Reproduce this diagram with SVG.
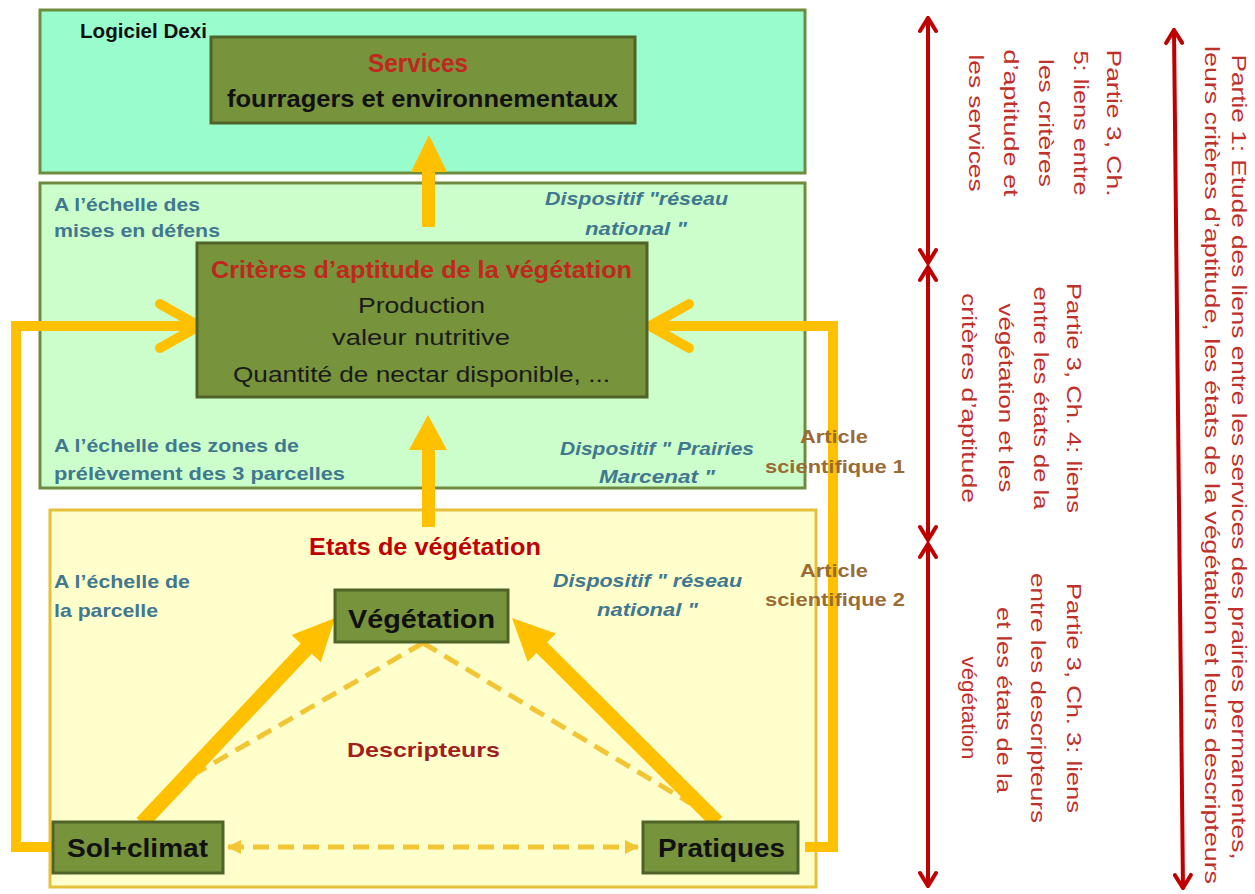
<svg xmlns="http://www.w3.org/2000/svg" width="1255" height="894" viewBox="0 0 1255 894">
<style>
text{font-family:"Liberation Sans",Arial,sans-serif;}
.cont{stroke:#6e8c3e;stroke-width:3;}
.node{fill:#77933c;stroke:#4f6228;stroke-width:3;}
.blue{fill:#41788e;font-weight:bold;font-size:19px;}
.bi{fill:#41788e;font-weight:bold;font-style:italic;font-size:19px;}
.brown{fill:#9b6b35;font-weight:bold;font-size:19px;}
.nlab{fill:#111;font-weight:bold;font-size:25px;}
.crit{fill:#1a1a1a;font-size:22px;}
.rot{fill:#c0302a;font-size:21px;}
.yl{fill:none;stroke:#ffc000;stroke-width:10;}
.chev{fill:none;stroke:#ffc000;stroke-width:10;stroke-linecap:round;stroke-linejoin:miter;}
.dash{fill:none;stroke:#f2c535;stroke-width:5;stroke-dasharray:16 9;}
.red{stroke:#c00000;stroke-width:4;fill:none;}
</style>
<defs>
<marker id="redHead" viewBox="0 0 20 20" refX="18" refY="10" markerWidth="20" markerHeight="20" markerUnits="userSpaceOnUse" orient="auto-start-reverse">
<path d="M5,2 L18,10 L5,18" fill="none" stroke="#c00000" stroke-width="4" stroke-linecap="round"/>
</marker>
<marker id="dashHead" viewBox="0 0 14 16" refX="13" refY="8" markerWidth="14" markerHeight="16" markerUnits="userSpaceOnUse" orient="auto-start-reverse">
<path d="M0,1 L14,8 L0,15 z" fill="#f2c535"/>
</marker>
</defs>
<rect width="1255" height="894" fill="#ffffff"/>

<g id="zone-dexi">
<rect class="cont" x="40" y="10" width="765" height="163" fill="#99fccd"/>
<text x="80" y="38" font-size="20" font-weight="bold" fill="#111" textLength="127" lengthAdjust="spacingAndGlyphs">Logiciel Dexi</text>
</g>
<g id="zone-mises">
<rect class="cont" x="40" y="183" width="765" height="305" fill="#ccfecc"/>
<text class="blue" x="54" y="211" textLength="146" lengthAdjust="spacingAndGlyphs">A l’échelle des</text>
<text class="blue" x="54" y="237" textLength="166" lengthAdjust="spacingAndGlyphs">mises en défens</text>
<text class="bi" x="545" y="205" textLength="183" lengthAdjust="spacingAndGlyphs">Dispositif "réseau</text>
<text class="bi" x="585" y="235" textLength="102" lengthAdjust="spacingAndGlyphs">national "</text>
<text class="blue" x="54" y="452" textLength="245" lengthAdjust="spacingAndGlyphs">A l’échelle des zones de</text>
<text class="blue" x="54" y="480" textLength="291" lengthAdjust="spacingAndGlyphs">prélèvement des 3 parcelles</text>
<text class="bi" x="560" y="455" textLength="194" lengthAdjust="spacingAndGlyphs">Dispositif " Prairies</text>
<text class="bi" x="599" y="483" textLength="116" lengthAdjust="spacingAndGlyphs">Marcenat "</text>
</g>
<g id="zone-parcelle">
<rect x="50" y="510" width="766" height="377" fill="#ffffcc" stroke="#e6c03a" stroke-width="3"/>
<text x="309" y="555" font-size="23" font-weight="bold" fill="#c00000" textLength="232" lengthAdjust="spacingAndGlyphs">Etats de végétation</text>
<text class="blue" x="54" y="588" textLength="136" lengthAdjust="spacingAndGlyphs">A l’échelle de</text>
<text class="blue" x="54" y="617" textLength="104" lengthAdjust="spacingAndGlyphs">la parcelle</text>
<text class="bi" x="553" y="587" textLength="189" lengthAdjust="spacingAndGlyphs">Dispositif " réseau</text>
<text class="bi" x="597" y="616" textLength="101" lengthAdjust="spacingAndGlyphs">national "</text>
<text x="347" y="757" font-size="21" font-weight="bold" fill="#a0201e" textLength="153" lengthAdjust="spacingAndGlyphs">Descripteurs</text>
</g>

<g id="connectors">
<polygon fill="#ffc000" points="422,227 422,172 411,172 429,135 447,172 435,172 435,227"/>
<polygon fill="#ffc000" points="422,527 422,450 409,450 428,415 447,450 435,450 435,527"/>
<polyline class="yl" points="53,847 16,847 16,326 196,326"/>
<polyline class="chev" points="160,304 199,326 160,348"/>
<polyline class="yl" points="805,847 833,847 833,326 652,326"/>
<polyline class="chev" points="689,304 650,326 689,348"/>
<line class="dash" x1="423" y1="643" x2="198" y2="772"/>
<line class="dash" x1="423" y1="643" x2="690" y2="803"/>
<line x1="228" y1="847" x2="638" y2="847" stroke="#f2c535" stroke-width="5" stroke-dasharray="16 9" marker-start="url(#dashHead)" marker-end="url(#dashHead)"/>
<polygon fill="#ffc000" points="147.5,828.1 311.7,653.7 320.8,662.3 335,618 291.6,634.9 300.7,643.5 136.5,817.9"/>
<polygon fill="#ffc000" points="722.3,816.7 547.1,642.3 555.9,633.4 512,618 527.7,661.8 536.5,652.9 711.7,827.3"/>
<line class="red" x1="928" y1="18" x2="928" y2="263" marker-start="url(#redHead)" marker-end="url(#redHead)"/>
<line class="red" x1="928" y1="267" x2="928" y2="540" marker-start="url(#redHead)" marker-end="url(#redHead)"/>
<line class="red" x1="928" y1="544" x2="928" y2="886" marker-start="url(#redHead)" marker-end="url(#redHead)"/>
<line class="red" x1="1174" y1="30" x2="1183" y2="888" marker-start="url(#redHead)" marker-end="url(#redHead)"/>
</g>

<g id="node-services">
<rect class="node" x="211" y="37" width="424" height="86"/>
<text x="368" y="72" font-size="25" font-weight="bold" fill="#c0281e" textLength="100" lengthAdjust="spacingAndGlyphs">Services</text>
<text x="227" y="107" font-size="24" font-weight="bold" fill="#111" textLength="391" lengthAdjust="spacingAndGlyphs">fourragers et environnementaux</text>
</g>
<g id="node-criteres">
<rect class="node" x="197" y="243" width="450" height="154"/>
<text x="211" y="278" font-size="24" font-weight="bold" fill="#c0281e" textLength="421" lengthAdjust="spacingAndGlyphs">Critères d’aptitude de la végétation</text>
<text class="crit" x="358" y="313" textLength="127" lengthAdjust="spacingAndGlyphs">Production</text>
<text class="crit" x="332" y="345" textLength="178" lengthAdjust="spacingAndGlyphs">valeur nutritive</text>
<text class="crit" x="233" y="382" textLength="377" lengthAdjust="spacingAndGlyphs">Quantité de nectar disponible, ...</text>
</g>
<g id="node-vegetation">
<rect class="node" x="335" y="590" width="173" height="52"/>
<text class="nlab" x="348" y="628" textLength="147" lengthAdjust="spacingAndGlyphs">Végétation</text>
</g>
<g id="node-sol">
<rect class="node" x="53" y="822" width="170" height="51"/>
<text class="nlab" x="67" y="857" textLength="141" lengthAdjust="spacingAndGlyphs">Sol+climat</text>
</g>
<g id="node-pratiques">
<rect class="node" x="643" y="822" width="155" height="51"/>
<text class="nlab" x="658" y="857" textLength="127" lengthAdjust="spacingAndGlyphs">Pratiques</text>
</g>

<g id="labels-articles">
<text class="brown" x="800" y="443" textLength="68" lengthAdjust="spacingAndGlyphs">Article</text>
<text class="brown" x="765" y="473" textLength="140" lengthAdjust="spacingAndGlyphs">scientifique 1</text>
<text class="brown" x="800" y="577" textLength="68" lengthAdjust="spacingAndGlyphs">Article</text>
<text class="brown" x="765" y="606" textLength="140" lengthAdjust="spacingAndGlyphs">scientifique 2</text>
</g>

<g id="labels-parties" text-anchor="middle">
<text class="rot" transform="translate(1107,123) rotate(90)" textLength="147" lengthAdjust="spacingAndGlyphs">Partie 3, Ch.</text>
<text class="rot" transform="translate(1074,123) rotate(90)" textLength="145" lengthAdjust="spacingAndGlyphs">5: liens entre</text>
<text class="rot" transform="translate(1039,123) rotate(90)" textLength="128" lengthAdjust="spacingAndGlyphs">les critères</text>
<text class="rot" transform="translate(1004,123) rotate(90)" textLength="147" lengthAdjust="spacingAndGlyphs">d’aptitude et</text>
<text class="rot" transform="translate(969,123) rotate(90)" textLength="137" lengthAdjust="spacingAndGlyphs">les services</text>

<text class="rot" transform="translate(1067,398) rotate(90)" textLength="230" lengthAdjust="spacingAndGlyphs">Partie 3, Ch. 4: liens</text>
<text class="rot" transform="translate(1034,398) rotate(90)" textLength="223" lengthAdjust="spacingAndGlyphs">entre les états de la</text>
<text class="rot" transform="translate(999,398) rotate(90)" textLength="189" lengthAdjust="spacingAndGlyphs">végétation et les</text>
<text class="rot" transform="translate(962,398) rotate(90)" textLength="210" lengthAdjust="spacingAndGlyphs">critères d’aptitude</text>

<text class="rot" transform="translate(1067,698) rotate(90)" textLength="230" lengthAdjust="spacingAndGlyphs">Partie 3, Ch. 3: liens</text>
<text class="rot" transform="translate(1031,698) rotate(90)" textLength="250" lengthAdjust="spacingAndGlyphs">entre les descripteurs</text>
<text class="rot" transform="translate(997,700) rotate(90)" textLength="186" lengthAdjust="spacingAndGlyphs">et les états de la</text>
<text class="rot" transform="translate(962,708) rotate(90)" textLength="103" lengthAdjust="spacingAndGlyphs">végétation</text>

<text class="rot" transform="translate(1232,457) rotate(90)" textLength="805" lengthAdjust="spacingAndGlyphs">Partie 1: Etude des liens entre les services des prairies permanentes,</text>
<text class="rot" transform="translate(1205,465) rotate(90)" textLength="838" lengthAdjust="spacingAndGlyphs">leurs critères d’aptitude, les états de la végétation et leurs descripteurs</text>
</g>
</svg>
